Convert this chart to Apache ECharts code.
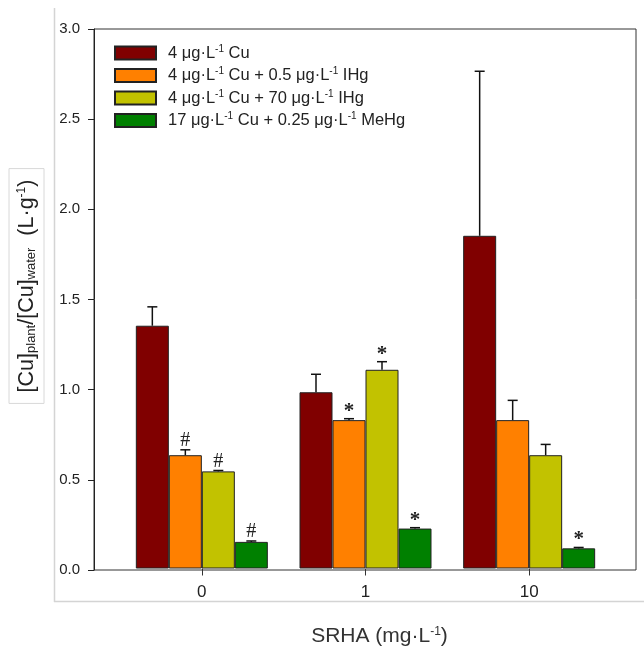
<!DOCTYPE html>
<html>
<head>
<meta charset="utf-8">
<script src="https://cdn.jsdelivr.net/npm/echarts@6/dist/echarts.min.js"></script>
<style>
html, body { margin: 0; padding: 0; background: #fff; }
#main { width: 644px; height: 652px; }
</style>
</head>
<body>
<div id="main"></div>
<script>
// 数据
var categories = ['0', '1', '10'];
var seriesNames = [
    '4 μg·L^-1 Cu',
    '4 μg·L^-1 Cu + 0.5 μg·L^-1 IHg',
    '4 μg·L^-1 Cu + 70 μg·L^-1 IHg',
    '17 μg·L^-1 Cu + 0.25 μg·L^-1 MeHg'
];
var valuesCu = [1.35, 0.98, 1.85];
var valuesIHgLow = [0.63, 0.825, 0.825];
var valuesIHgHigh = [0.54, 1.105, 0.63];
var valuesMeHg = [0.148, 0.222, 0.112];

var errCu = [0.105, 0.10, 0.915];
var errIHgLow = [0.03, 0.008, 0.11];
var errIHgHigh = [0.005, 0.045, 0.06];
var errMeHg = [0.005, 0.005, 0.005];

// 显著性标记
var marksCu = ['', '', ''];
var marksIHgLow = ['#', '*', ''];
var marksIHgHigh = ['#', '*', ''];
var marksMeHg = ['#', '*', '*'];

var allValues = [valuesCu, valuesIHgLow, valuesIHgHigh, valuesMeHg];
var allErr = [errCu, errIHgLow, errIHgHigh, errMeHg];
var allMarks = [marksCu, marksIHgLow, marksIHgHigh, marksMeHg];
var colors = ['#800000', '#ff8000', '#c2c200', '#008000'];

var BAR_W = 33;
var chart = echarts.init(document.getElementById('main'));

var series = [];
// 柱子
for (var i = 0; i < 4; i++) {
    series.push({
        name: seriesNames[i],
        type: 'bar',
        xAxisIndex: 1,
        yAxisIndex: 1,
        barWidth: BAR_W,
        barGap: '0%',
        itemStyle: {
            color: colors[i],
            borderColor: '#222',
            borderWidth: 1
        },
        data: allValues[i]
    });
}
// 误差线 + 标记
for (var k = 0; k < 4; k++) {
    var d = [];
    for (var j = 0; j < categories.length; j++) {
        d.push([j, allValues[k][j], allErr[k][j]]);
    }
    series.push({
        name: 'err' + k,
        type: 'custom',
        xAxisIndex: 1,
        yAxisIndex: 1,
        z: 5,
        data: d,
        renderItem: (function (idx) {
            return function (params, api) {
                var cat = api.value(0);
                var v = api.value(1);
                var e = api.value(2);
                var mark = allMarks[idx][params.dataIndex];
                var base = api.coord([cat, v]);
                var top = api.coord([cat, v + e]);
                var x = base[0] + (idx - 1.5) * BAR_W;
                var children = [
                    { type: 'line', shape: { x1: x, y1: base[1], x2: x, y2: top[1] },
                      style: { stroke: '#111', lineWidth: 1.5 } },
                    { type: 'line', shape: { x1: x - 5, y1: top[1], x2: x + 5, y2: top[1] },
                      style: { stroke: '#111', lineWidth: 1.5 } }
                ];
                if (mark) {
                    children.push({
                        type: 'text',
                        style: {
                            text: mark,
                            x: x,
                            y: top[1] + (mark == '#' ? 1 : 3),
                            align: 'center',
                            verticalAlign: 'bottom',
                            font: (mark == '#' ? '20px' : 'bold 21px') + ' "Liberation Serif"',
                            fill: '#222'
                        }
                    });
                }
                return { type: 'group', children: children };
            };
        })(k)
    });
}

var option = {
    animation: false,
    textStyle: { fontFamily: '"Liberation Sans", Arial, sans-serif' },
    graphic: [
        { type: 'line', shape: { x1: 54.5, y1: 8, x2: 54.5, y2: 602 }, style: { stroke: '#d4d4d4', lineWidth: 1.5 } },
        { type: 'line', shape: { x1: 54, y1: 601.5, x2: 644, y2: 601.5 }, style: { stroke: '#d4d4d4', lineWidth: 1.5 } },
        {
            // y 轴标题
            type: 'text',
            x: 26.5,
            y: 286,
            rotation: Math.PI / 2,
            style: {
                text: '[Cu]{sub|plant}/[Cu]{sub|water}  (L·g{sup|-1})',
                align: 'center',
                verticalAlign: 'middle',
                font: '21.5px "Liberation Sans"',
                fill: '#222',
                borderColor: '#d8d8d8',
                borderWidth: 1,
                padding: [7, 11, 6, 11],
                rich: {
                    sub: { font: '13px "Liberation Sans"', verticalAlign: 'bottom', padding: [9, 0, 0, 0], fill: '#222' },
                    sup: { font: '12px "Liberation Sans"', verticalAlign: 'top', padding: [0, 0, 9, 0], fill: '#222' }
                }
            }
        }
    ],
    grid: [
        { left: 94, top: 29, right: 8, bottom: 82, show: true, borderColor: '#333', borderWidth: 1, backgroundColor: 'transparent' },
        { left: 120, top: 29, right: 33, bottom: 82 }
    ],
    legend: {
        orient: 'vertical',
        left: 109,
        top: 39,
        itemWidth: 41,
        itemHeight: 13,
        itemGap: 4.5,
        icon: 'rect',
        data: seriesNames,
        formatter: function (name) {
            return name.replace(/\^-1/g, '{sup|-1}');
        },
        textStyle: {
            fontSize: 16.5,
            color: '#222',
            lineHeight: 18,
            padding: [0, 0, 0, 7],
            rich: {
                sup: { fontSize: 10, verticalAlign: 'top', lineHeight: 18, padding: [0, 0, 6, 0], color: '#222' }
            }
        }
    },
    xAxis: [
        { gridIndex: 0, type: 'value', min: 0, max: 1, show: false },
        {
            gridIndex: 1,
            type: 'category',
            data: categories,
            axisLine: { show: false },
            axisTick: { show: true, alignWithLabel: true, length: 7, lineStyle: { color: '#333' } },
            axisLabel: { fontSize: 17, color: '#222', margin: 15 },
            name: 'SRHA (mg·L{sup|-1})',
            nameLocation: 'middle',
            nameGap: 57,
            nameTextStyle: {
                fontSize: 21,
                color: '#333',
                padding: [0, 0, 0, 28],
                rich: { sup: { fontSize: 12, verticalAlign: 'top', padding: [0, 0, 10, 0], color: '#333' } }
            }
        }
    ],
    yAxis: [
        {
            gridIndex: 0,
            type: 'value',
            min: 0,
            max: 3,
            interval: 0.5,
            axisLine: { show: true, lineStyle: { color: '#222' } },
            axisTick: { show: true, length: 6, lineStyle: { color: '#222' } },
            splitLine: { show: false },
            axisLabel: {
                fontSize: 15,
                color: '#222',
                margin: 14,
                formatter: function (v) { return v.toFixed(1); }
            }
        },
        { gridIndex: 1, type: 'value', min: 0, max: 3, show: false }
    ],
    series: series
};

chart.setOption(option);
</script>
</body>
</html>
